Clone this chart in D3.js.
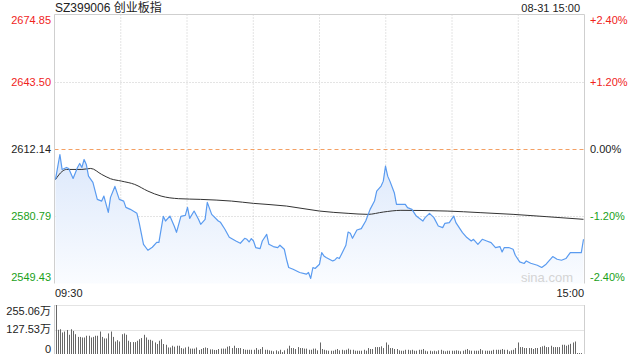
<!DOCTYPE html>
<html>
<head>
<meta charset="utf-8">
<script src="https://cdn.jsdelivr.net/npm/d3@7/dist/d3.min.js"></script>
<style>
  html, body { margin: 0; padding: 0; background: #fff; }
  svg { display: block; font-family: Arial, "Liberation Sans", "Noto Sans CJK SC", sans-serif; }
</style>
</head>
<body>
<div id="chart"></div>
<script>
var title = "SZ399006 创业板指";
var stamp = "08-31 15:00";
var prevClose = 2612.14;
var priceTicks = [2549.43, 2580.79, 2612.14, 2643.50, 2674.85];
var pctTicks = ["-2.40%", "-1.20%", "0.00%", "+1.20%", "+2.40%"];
var timeLabels = ["09:30", "15:00"];
var volTicks = [0, 127.53, 255.06];
var volTickLabels = ["0", "127.53万", "255.06万"];

// minutes after 09:30 (lunch break removed) and index level
var priceMinutes = [0, 2, 3, 5, 6, 8, 10, 11, 12, 13, 14, 15, 17, 19, 21, 22, 24, 25, 27, 29, 31, 32, 34, 37, 38, 40, 42, 44, 46, 47,
    49, 50, 52, 54, 55, 57, 59, 60, 61, 63, 65, 66, 68, 69, 71, 74, 75, 77, 79, 82, 84, 86, 87, 88, 89, 90, 91, 93, 94, 96,
    97, 99, 101, 102, 104, 105, 106, 108, 111, 114, 115, 116, 117, 118, 120, 121, 122, 123, 126, 127, 128, 129, 130, 132, 133, 134, 135, 137, 139, 141,
    143, 145, 146, 148, 149, 150, 151, 152, 154, 155, 159, 160, 162, 164, 167, 168, 170, 172, 174, 176, 177, 179, 181, 182, 185, 187, 189, 190, 192, 194,
    196, 198, 200, 202, 203, 204, 206, 208, 209, 211, 213, 214, 216, 219, 221, 223, 225, 226, 228, 230, 232, 234, 239, 240];
var priceValues = [2597.95, 2609.58, 2602.61, 2603.54, 2603.07, 2598.42, 2603.54, 2605.40, 2603.54, 2607.26, 2604.93, 2599.49, 2596.56, 2588.65, 2587.86, 2590.19, 2582.61, 2589.58, 2594.70, 2588.65, 2587.86, 2584.93, 2584.00, 2582.14, 2577.95, 2567.72, 2564.93, 2566.33, 2568.65, 2568.65,
    2580.75, 2578.56, 2580.88, 2576.09, 2573.30, 2580.75, 2581.21, 2584.93, 2579.81, 2583.21, 2579.35, 2577.02, 2579.35, 2587.26, 2581.67, 2578.56, 2577.95, 2574.70, 2570.98, 2569.26, 2568.19, 2570.51, 2570.05, 2568.79, 2570.37, 2569.26, 2566.19, 2565.72, 2569.26, 2572.37,
    2567.72, 2566.65, 2566.19, 2567.26, 2565.40, 2560.75, 2556.89, 2556.09, 2554.56, 2553.77, 2554.56, 2551.77, 2556.89, 2556.42, 2558.42, 2563.86, 2562.28, 2561.53, 2559.96, 2560.42, 2561.53, 2561.07, 2563.07, 2567.26, 2573.44, 2572.84, 2570.51, 2574.37, 2575.02, 2578.56,
    2584.00, 2587.86, 2592.51, 2594.84, 2597.16, 2604.14, 2599.49, 2597.16, 2591.77, 2586.33, 2586.33, 2584.79, 2584.00, 2580.88, 2578.56, 2580.14, 2582.14, 2580.14, 2576.23, 2575.49, 2577.49, 2577.81, 2580.88, 2577.81, 2573.16, 2570.84, 2569.26, 2570.05, 2567.72, 2570.05,
    2569.26, 2568.51, 2566.19, 2566.65, 2564.14, 2566.19, 2566.19, 2565.40, 2562.61, 2559.49, 2558.75, 2559.96, 2558.88, 2557.96, 2556.89, 2558.42, 2560.75, 2562.00, 2560.75, 2560.28, 2561.07, 2563.86, 2563.86, 2570.05];

var avgMinutes = [0, 3, 5, 12, 16, 21, 25, 30, 36, 42, 48, 56, 66, 80, 90, 105, 120, 133, 142, 149, 157, 178, 193, 208, 223, 240];
var avgValues = [2597.9, 2601.67, 2602.61, 2602.61, 2603.07, 2600.28, 2598.28, 2597.16, 2595.63, 2592.51, 2590.19, 2588.98, 2588.65, 2587.86, 2586.79, 2585.54, 2583.21, 2582.14, 2581.67, 2582.75, 2583.54, 2583.21, 2582.47, 2581.67, 2580.61, 2579.35];

// volume per minute, 万
var volumes = [255, 126, 129, 112, 117, 125, 100, 129, 120, 103, 89, 89, 86, 86, 95, 95, 86, 89, 95, 95,
    117, 89, 81, 81, 107, 117, 89, 65, 72, 65, 103, 107, 100, 69, 62, 62, 62, 69, 77, 83,
    100, 86, 74, 74, 69, 60, 52, 69, 77, 52, 48, 34, 34, 43, 38, 43, 43, 31, 28, 34,
    38, 28, 28, 28, 34, 21, 26, 31, 34, 31, 24, 24, 21, 21, 26, 28, 28, 28, 38, 41, 31,
    43, 31, 31, 31, 26, 22, 22, 22, 22, 22, 31, 22, 26, 36, 22, 22, 19, 17, 14, 19,
    14, 22, 10, 19, 28, 43, 31, 31, 26, 36, 31, 31, 28, 28, 22, 22, 28, 28, 19, 60,
    26, 22, 19, 17, 17, 17, 22, 26, 19, 22, 19, 22, 28, 22, 22, 17, 17, 17, 17, 22,
    17, 31, 26, 26, 36, 36, 36, 40, 31, 60, 48, 31, 31, 26, 26, 19, 17, 17, 22, 22,
    19, 22, 17, 17, 22, 22, 26, 17, 14, 17, 14, 17, 14, 19, 22, 17, 14, 17, 17, 17,
    17, 19, 17, 14, 17, 22, 26, 19, 17, 17, 17, 17, 26, 19, 17, 17, 17, 17, 22, 22,
    22, 22, 26, 22, 22, 14, 19, 22, 31, 60, 36, 36, 31, 31, 31, 31, 26, 31, 31, 36,
    40, 43, 36, 36, 43, 36, 36, 36, 36, 48, 48, 43, 48, 53, 60, 65, 5, 5, 5, 129];

function drawChart() {
    var width = 640, height = 360;
    var red = "#f0231c", green = "#1a9f1a", dark = "#222";
    var frame = { left: 54.5, right: 584.5, top: 14.5, bottom: 283.5 };
    var volFrame = { top: 305, bottom: 354 };

    var svg = d3.select("#chart").append("svg")
        .attr("width", width)
        .attr("height", height);

    var x = d3.scaleLinear().domain([0, 240]).range([55.5, 583.5]);
    var gridX = d3.scaleLinear().domain([0, 8]).range([frame.left, frame.right]);
    var y = d3.scaleLinear().domain([priceTicks[0], priceTicks[priceTicks.length - 1]]).range([frame.bottom, frame.top]);
    var yVol = d3.scaleLinear().domain([0, 255.06]).range([volFrame.bottom, volFrame.top]);

    function tickColor(v) {
        if (Math.abs(v - prevClose) < 0.01) return dark;
        return v > prevClose ? red : green;
    }

    // gradient under the price line
    var defs = svg.append("defs");
    var grad = defs.append("linearGradient")
        .attr("id", "areaFill")
        .attr("gradientUnits", "userSpaceOnUse")
        .attr("x1", 0).attr("x2", 0)
        .attr("y1", y(2610)).attr("y2", frame.bottom);
    grad.append("stop").attr("offset", "0%").attr("stop-color", "#dce8fb");
    grad.append("stop").attr("offset", "100%").attr("stop-color", "#fafcff");

    // vertical grid
    svg.append("g").selectAll("line")
        .data(d3.range(1, 8))
        .enter().append("line")
        .attr("x1", function(d) { return gridX(d); })
        .attr("x2", function(d) { return gridX(d); })
        .attr("y1", frame.top)
        .attr("y2", frame.bottom)
        .attr("stroke", "#c8c8c8")
        .attr("stroke-dasharray", "1,2");

    // horizontal grid
    svg.append("g").selectAll("line")
        .data(priceTicks.slice(1, priceTicks.length - 1))
        .enter().append("line")
        .attr("x1", frame.left)
        .attr("x2", frame.right)
        .attr("y1", function(d) { return Math.round(y(d)) + 0.5; })
        .attr("y2", function(d) { return Math.round(y(d)) + 0.5; })
        .attr("stroke", function(d) { return d === prevClose ? "#f4a064" : "#c8c8c8"; })
        .attr("stroke-dasharray", function(d) { return d === prevClose ? "4,3" : "1,2"; });

    // price area and lines
    var pts = priceMinutes.map(function(m, i) { return [m, priceValues[i]]; });
    var avgPts = avgMinutes.map(function(m, i) { return [m, avgValues[i]]; });

    svg.append("path")
        .datum(pts)
        .attr("fill", "url(#areaFill)")
        .attr("d", d3.area()
            .x(function(d) { return x(d[0]); })
            .y0(frame.bottom)
            .y1(function(d) { return y(d[1]); }));

    svg.append("path")
        .datum(avgPts)
        .attr("fill", "none")
        .attr("stroke", "#333")
        .attr("stroke-width", 1)
        .attr("d", d3.line()
            .curve(d3.curveMonotoneX)
            .x(function(d) { return x(d[0]); })
            .y(function(d) { return y(d[1]); }));

    svg.append("path")
        .datum(pts)
        .attr("fill", "none")
        .attr("stroke", "#5a9bf0")
        .attr("stroke-width", 1.2)
        .attr("stroke-linejoin", "round")
        .attr("d", d3.line()
            .x(function(d) { return x(d[0]); })
            .y(function(d) { return y(d[1]); }));

    // frame: top, left, right
    svg.append("path")
        .attr("d", "M" + frame.left + "," + frame.bottom + "V" + frame.top + "H" + frame.right + "V" + frame.bottom)
        .attr("fill", "none")
        .attr("stroke", "#cfcfcf");

    // watermark
    svg.append("text")
        .attr("x", 573)
        .attr("y", 282)
        .attr("text-anchor", "end")
        .attr("fill", "#d4d4d4")
        .style("font-size", "13px")
        .text("sina.com");

    // left price labels
    svg.append("g").selectAll("text")
        .data(priceTicks)
        .enter().append("text")
        .attr("x", 51)
        .attr("y", function(d) { return Math.max(20.5, Math.min(277.5, y(d))); })
        .attr("dy", "0.35em")
        .attr("text-anchor", "end")
        .attr("fill", tickColor)
        .style("font-size", "11px")
        .text(function(d) { return d.toFixed(2); });

    // right percent labels
    svg.append("g").selectAll("text")
        .data(priceTicks)
        .enter().append("text")
        .attr("x", 590)
        .attr("y", function(d) { return Math.max(20.5, Math.min(277.5, y(d))); })
        .attr("dy", "0.35em")
        .attr("fill", tickColor)
        .style("font-size", "11px")
        .text(function(d, i) { return pctTicks[i]; });

    // title and stamp
    svg.append("text")
        .attr("x", 55)
        .attr("y", 12)
        .attr("fill", dark)
        .style("font-size", "12px")
        .text(title);

    svg.append("text")
        .attr("x", 580)
        .attr("y", 12)
        .attr("text-anchor", "end")
        .attr("fill", dark)
        .style("font-size", "11px")
        .text(stamp);

    // time labels
    svg.append("text")
        .attr("x", 55)
        .attr("y", 297)
        .attr("fill", dark)
        .style("font-size", "11px")
        .text(timeLabels[0]);

    svg.append("text")
        .attr("x", 584)
        .attr("y", 297)
        .attr("text-anchor", "end")
        .attr("fill", dark)
        .style("font-size", "11px")
        .text(timeLabels[1]);

    // volume panel grid
    svg.append("g").selectAll("line")
        .data(volTicks.slice(1))
        .enter().append("line")
        .attr("x1", frame.left)
        .attr("x2", frame.right)
        .attr("y1", function(d) { return Math.round(yVol(d)) + 0.5; })
        .attr("y2", function(d) { return Math.round(yVol(d)) + 0.5; })
        .attr("stroke", "#c8c8c8")
        .attr("stroke-dasharray", "1,1");

    svg.append("g").selectAll("rect")
        .data(volumes)
        .enter().append("rect")
        .attr("x", function(d, i) { return Math.round(x(i)) ; })
        .attr("width", 1)
        .attr("y", function(d) { return yVol(d); })
        .attr("height", function(d) { return volFrame.bottom - yVol(d); })
        .attr("fill", "#666");

    svg.append("line")
        .attr("x1", frame.left).attr("x2", frame.left)
        .attr("y1", volFrame.top).attr("y2", volFrame.bottom)
        .attr("stroke", "#cfcfcf");
    svg.append("line")
        .attr("x1", frame.right).attr("x2", frame.right)
        .attr("y1", volFrame.top).attr("y2", volFrame.bottom)
        .attr("stroke", "#cfcfcf");

    svg.append("g").selectAll("text")
        .data(volTicks)
        .enter().append("text")
        .attr("x", 51)
        .attr("y", function(d) { return Math.max(311, Math.min(349, yVol(d))); })
        .attr("dy", "0.35em")
        .attr("text-anchor", "end")
        .attr("fill", dark)
        .style("font-size", "11px")
        .text(function(d, i) { return volTickLabels[i]; });
}

drawChart();
</script>
</body>
</html>
